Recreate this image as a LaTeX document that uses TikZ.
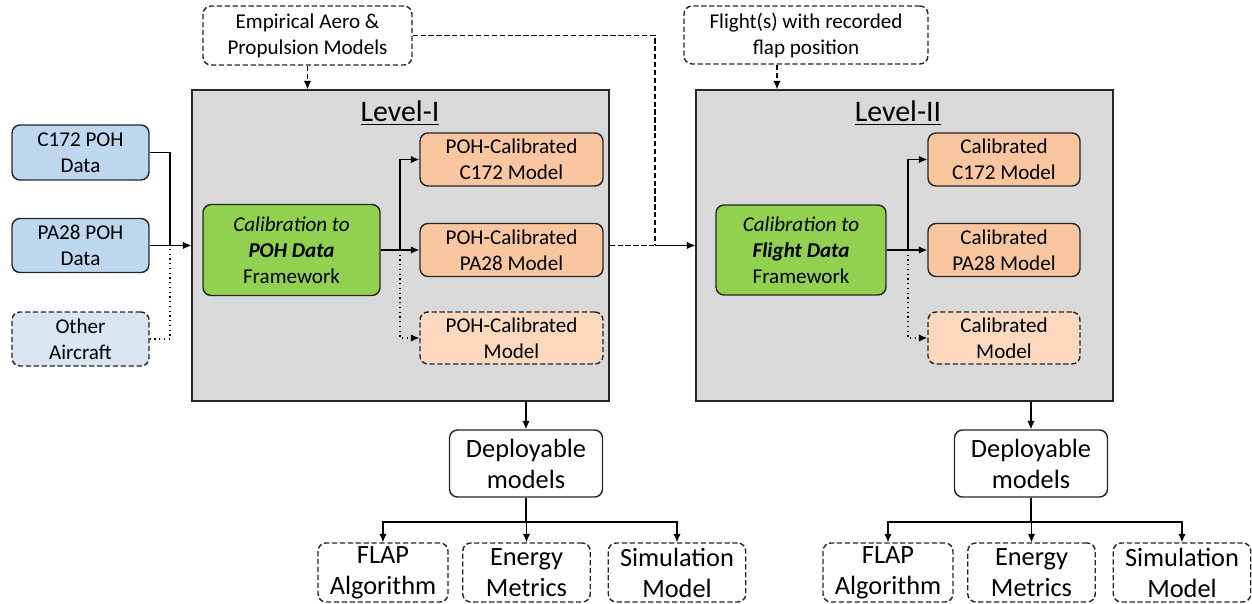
\documentclass[tikz,border=0pt]{standalone}
\usepackage{fontspec}
\setmainfont{Carlito}
\usepackage{tikz}
\usetikzlibrary{arrows.meta,positioning,calc}
\definecolor{pohblue}{HTML}{BDD7EE}
\definecolor{pohpale}{HTML}{DAE5F2}
\definecolor{calgreen}{HTML}{92D050}
\definecolor{mdlorange}{HTML}{F9C6A0}
\definecolor{mdlpale}{HTML}{FCD9BE}
\definecolor{levelgrey}{HTML}{D9D9D9}
\definecolor{ink}{HTML}{262626}
\tikzset{
  box/.style={draw=ink, rounded corners=0.16cm, line width=0.8pt,
              align=center, inner sep=0pt, font=\fontsize{12}{14.8}\selectfont},
  bigbox/.style={box, font=\fontsize{15}{17.6}\selectfont},
  ghost/.style={dash pattern=on 3pt off 1.5pt},
  levelbox/.style={draw=ink, fill=levelgrey, line width=0.8pt, inner sep=0pt},
  leveltag/.style={font=\fontsize{17}{20}\selectfont},
  feed/.style={line width=0.7pt, draw=black},
  arrow/.style={feed, -{Latex[length=1.7mm,width=1.5mm]}},
  dashline/.style={feed, ghost},
  dasharrow/.style={arrow, ghost}
}
\begin{document}
\begin{tikzpicture}[x=0.02cm,y=-0.02cm]
  \useasboundingbox (0,0) rectangle (1252,604);
  % level containers
  \node[levelbox,minimum width=8.34cm,minimum height=6.22cm] (lvlone) at (400.5,245.5) {};
  \node[levelbox,minimum width=8.34cm,minimum height=6.22cm] (lvltwo) at (904.5,245.5) {};
  \node[leveltag] (tagone) at (400,113) {\underline{Level-I}};
  \node[leveltag] (tagtwo) at (898,113) {\underline{Level-II}};
  % inputs
  \node[box,fill=pohblue,minimum width=2.74cm,minimum height=1.1cm] (c172) at (80.5,152.5) {C172 POH\\Data};
  \node[box,fill=pohblue,minimum width=2.74cm,minimum height=1.08cm] (pa28) at (80.5,245.5) {PA28 POH\\Data};
  \node[box,ghost,fill=pohpale,minimum width=2.74cm,minimum height=1.08cm] (other) at (80.5,339) {Other\\Aircraft};
  \node[box,ghost,fill=white,minimum width=4.18cm,minimum height=1.18cm] (emp) at (307.5,35.5) {Empirical Aero \&\\Propulsion Models};
  \node[box,ghost,fill=white,minimum width=4.88cm,minimum height=1.16cm] (flight) at (806,35) {Flight(s) with recorded\\flap position};
  % level I
  \node[box,fill=calgreen,minimum width=3.54cm,minimum height=1.82cm] (calpoh) at (291.5,250)
    {\itshape Calibration to\\\bfseries\itshape POH Data\\\normalfont Framework};
  \node[box,fill=mdlorange,minimum width=3.66cm,minimum height=1.06cm] (pohc172) at (511.5,159.5) {POH-Calibrated\\C172 Model};
  \node[box,fill=mdlorange,minimum width=3.66cm,minimum height=1.06cm] (pohpa28) at (511.5,250) {POH-Calibrated\\PA28 Model};
  \node[box,ghost,fill=mdlpale,minimum width=3.66cm,minimum height=1.04cm] (pohother) at (511.5,338) {POH-Calibrated\\Model};
  % level II
  \node[box,fill=calgreen,minimum width=3.4cm,minimum height=1.8cm] (calflt) at (801,250)
    {\itshape Calibration to\\\bfseries\itshape Flight Data\\\normalfont Framework};
  \node[box,fill=mdlorange,minimum width=3.04cm,minimum height=1.06cm] (calc172) at (1004,159.5) {Calibrated\\C172 Model};
  \node[box,fill=mdlorange,minimum width=3.04cm,minimum height=1.06cm] (calpa28) at (1004,250) {Calibrated\\PA28 Model};
  \node[box,ghost,fill=mdlpale,minimum width=3.04cm,minimum height=1.04cm] (calother) at (1004,338) {Calibrated\\Model};

  \coordinate (join) at (170,245.5);
  \coordinate (forkone) at (400,250);
  \coordinate (forktwo) at (908,250);
  \coordinate (bend) at (655,245.5);
  \coordinate (fltdrop) at (777,0);

  % inputs to level I
  \draw[feed] (c172.east) -| (join);
  \draw[feed,dotted] (other.east) -| (join);
  \draw[arrow] (pa28.east) -- (lvlone.west);
  \draw[dasharrow] (emp.south) -- (emp.south |- lvlone.north);
  % level I outputs
  \draw[arrow] (calpoh.east) -- (pohpa28.west);
  \draw[arrow] (forkone) |- (pohc172.west);
  \draw[arrow,dotted] (forkone) |- (pohother.west);
  % into level II
  \draw[dashline] (emp.east) -| (bend);
  \draw[dashline] (lvlone.east) -- (bend);
  \draw[arrow] (bend) -- (lvltwo.west);
  \draw[dasharrow] (flight.south -| fltdrop) -- (fltdrop |- lvltwo.north);
  % level II outputs
  \draw[arrow] (calflt.east) -- (calpa28.west);
  \draw[arrow] (forktwo) |- (calc172.west);
  \draw[arrow,dotted] (forktwo) |- (calother.west);

  % deployable models and their uses
  \foreach \lv/\dx in {1/0,2/505}{
    \node[bigbox,fill=white,minimum width=3.06cm,minimum height=1.34cm] (dep\lv) at (526+\dx,463.5) {Deployable\\models};
    \node[bigbox,ghost,fill=white,minimum width=2.6cm,minimum height=1.18cm] (flap\lv) at (383+\dx,572.5) {FLAP\\Algorithm};
    \node[bigbox,ghost,fill=white,minimum width=2.55cm,minimum height=1.18cm] (energy\lv) at (526.5+\dx,572.5) {Energy\\Metrics};
    \node[bigbox,ghost,fill=white,minimum width=2.75cm,minimum height=1.18cm] (sim\lv) at (677+\dx,572.5) {Simulation\\Model};
    \coordinate (split\lv) at (526+\dx,522);
    \draw[feed] (dep\lv.south) -- (split\lv);
    \foreach \use in {flap,energy,sim}
      \draw[arrow] (split\lv) -| (\use\lv.north);
  }
  \draw[arrow] (dep1 |- lvlone.south) -- (dep1.north);
  \draw[arrow] (dep2 |- lvltwo.south) -- (dep2.north);
\end{tikzpicture}
\end{document}
